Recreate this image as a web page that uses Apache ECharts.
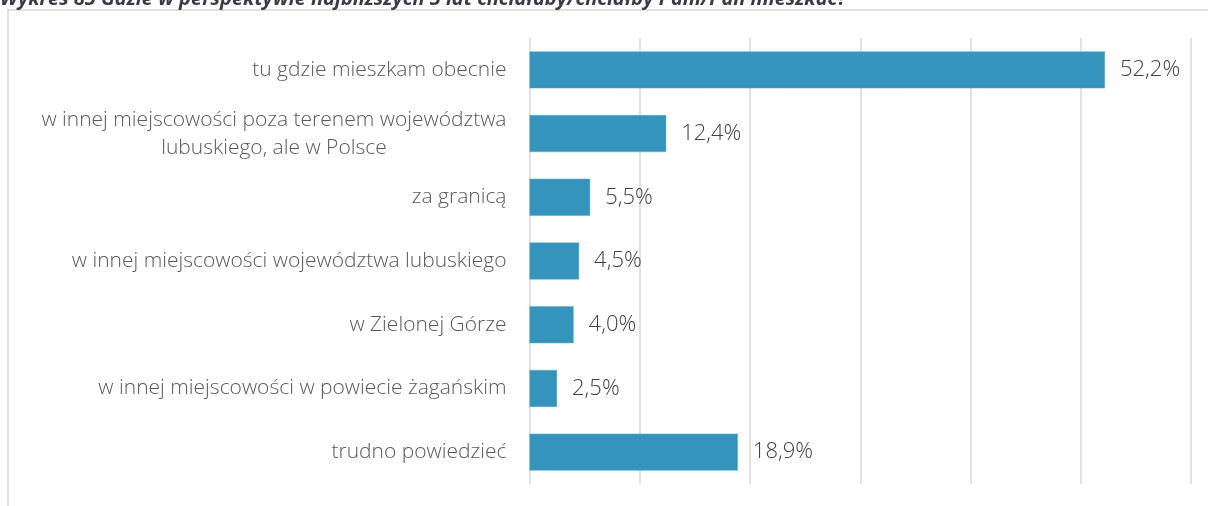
<!DOCTYPE html>
<html>
<head>
<meta charset="utf-8">
<script src="https://cdn.jsdelivr.net/npm/echarts@6/dist/echarts.min.js"></script>
<style>
  html, body { margin: 0; padding: 0; background: #fff; }
  #chart { width: 1208px; height: 506px; }
</style>
</head>
<body>
<div id="chart"></div>
<script>
// Answers to the survey question, top to bottom
const categories = [
  'tu gdzie mieszkam obecnie',
  'w innej miejscowości poza terenem województwa\nlubuskiego, ale w Polsce',
  'za granicą',
  'w innej miejscowości województwa lubuskiego',
  'w Zielonej Górze',
  'w innej miejscowości w powiecie żagańskim',
  'trudno powiedzieć'
];
// Share of respondents, %
const values = [52.2, 12.4, 5.5, 4.5, 4.0, 2.5, 18.9];
const titleText = 'Wykres 85 Gdzie w perspektywie najbliższych 5 lat chciałaby/chciałby Pani/Pan mieszkać?';

const labelFont = '"Open Sans", "Liberation Sans", sans-serif';

const chart = echarts.init(document.getElementById('chart'), null, { renderer: 'canvas' });

chart.setOption({
  animation: false,
  backgroundColor: '#ffffff',
  graphic: [
    {
      type: 'rect',
      shape: { x: 8, y: 10, width: 1400, height: 700 },
      style: { fill: 'none', stroke: '#d9d9d9', lineWidth: 1.5 },
      silent: true
    },
    {
      type: 'text',
      x: 0,
      y: -11,
      style: {
        text: titleText,
        font: 'italic bold 20px "Open Sans", "Liberation Sans", sans-serif',
        fill: '#3a3a4a'
      },
      silent: true
    }
  ],
  grid: { left: 529.5, right: 17, top: 38, bottom: 22, containLabel: false },
  xAxis: {
    type: 'value',
    min: 0,
    max: 60,
    interval: 10,
    axisLabel: { show: false },
    axisLine: { show: false },
    axisTick: { show: false },
    splitLine: { show: true, lineStyle: { color: '#d9d9d9', width: 1.5 } }
  },
  yAxis: {
    type: 'category',
    inverse: true,
    data: categories,
    axisLine: { show: false },
    axisTick: { show: false },
    axisLabel: {
      margin: 23,
      color: '#595959',
      fontFamily: labelFont,
      fontWeight: 300,
      fontSize: 21,
      lineHeight: 28,
      align: 'right',
      formatter: function (v) {
        return v.split('\n').map(function (l) { return '{c|' + l + '}'; }).join('\n');
      },
      rich: {
        c: {
          align: 'center',
          color: '#595959',
          fontFamily: labelFont,
          fontWeight: 300,
          fontSize: 21,
          lineHeight: 28
        }
      }
    }
  },
  series: [{
    type: 'bar',
    data: values,
    barCategoryGap: '42%',
    itemStyle: { color: '#3594bb', borderColor: '#5aaccd', borderWidth: 0.5 },
    label: {
      show: true,
      position: 'right',
      distance: 15,
      color: '#404040',
      fontFamily: labelFont,
      fontWeight: 300,
      fontSize: 22,
      formatter: function (p) {
        return p.value.toFixed(1).replace('.', ',') + '%';
      }
    }
  }]
});
</script>
</body>
</html>
